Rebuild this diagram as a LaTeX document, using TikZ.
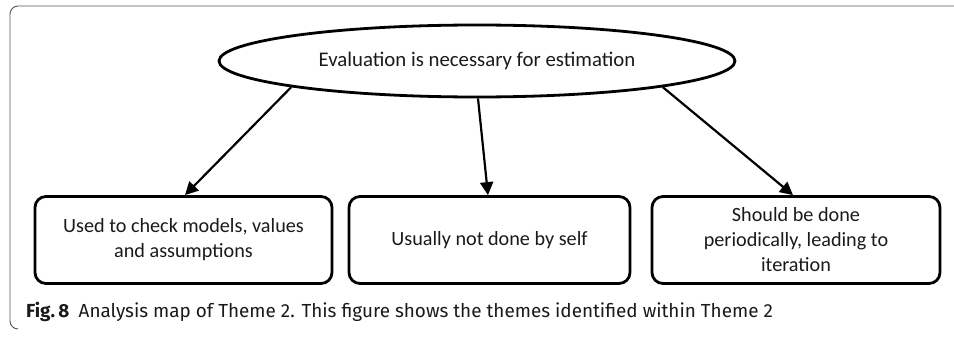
\documentclass[tikz,border=0pt]{standalone}
\usepackage{fontspec}
\setmainfont{Carlito}
\newfontfamily\capfont{Fira Sans}
\usetikzlibrary{shapes.geometric,arrows.meta}
\definecolor{ink}{HTML}{1A1A1A}
\definecolor{framegray}{HTML}{555555}
\tikzset{
  themebox/.style={draw=black, line width=2.8pt, rounded corners=11pt,
    minimum height=87pt, align=center, text=ink,
    font=\fontsize{20.2}{25}\selectfont},
  mainidea/.style={draw=black, line width=2.8pt, ellipse, inner sep=0pt,
    minimum width=516pt, minimum height=72pt, text=ink,
    font=\fontsize{20.8}{25}\selectfont},
  link/.style={draw=black, line width=2.2pt,
    -{Triangle[length=13pt,width=13pt]}},
}
\begin{document}
\begin{tikzpicture}[x=1pt,y=-1pt]
  \useasboundingbox (0,0) rectangle (954,337);
  % frame of the figure panel
  \draw[framegray, line width=0.9pt, rounded corners=8pt]
    (960,6) -- (10,6) -- (10,329) -- (17,329);

  % central theme
  \node[mainidea] (eval) at (477,61) {Evaluation is necessary for estimation};

  % sub-themes
  \node[themebox, minimum width=297pt] (b1) at (183.5,240)
    {Used to check models, values\\and assumptions};
  \node[themebox, minimum width=281pt] (b2) at (489.5,240)
    {Usually not done by self};
  \node[themebox, minimum width=288pt] (b3) at (796,240)
    {Should be done\\periodically, leading to\\iteration};

  % connections
  \draw[link] (eval.188) -- ([xshift=1.5pt]b1.north);
  \draw[link] ([xshift=1pt]eval.south) -- ([xshift=-1.5pt]b2.north);
  \draw[link] (eval.352) -- ([xshift=-3pt]b3.north);

  % caption
  \node[anchor=base west, inner sep=0pt, text=ink,
    font=\capfont\fontsize{18.9}{24}\selectfont] (cap) at (26,317)
    {\textbf{Fig.\,8}\enspace Analysis map of Theme 2. This figure shows the themes identified within Theme 2};
\end{tikzpicture}
\end{document}
